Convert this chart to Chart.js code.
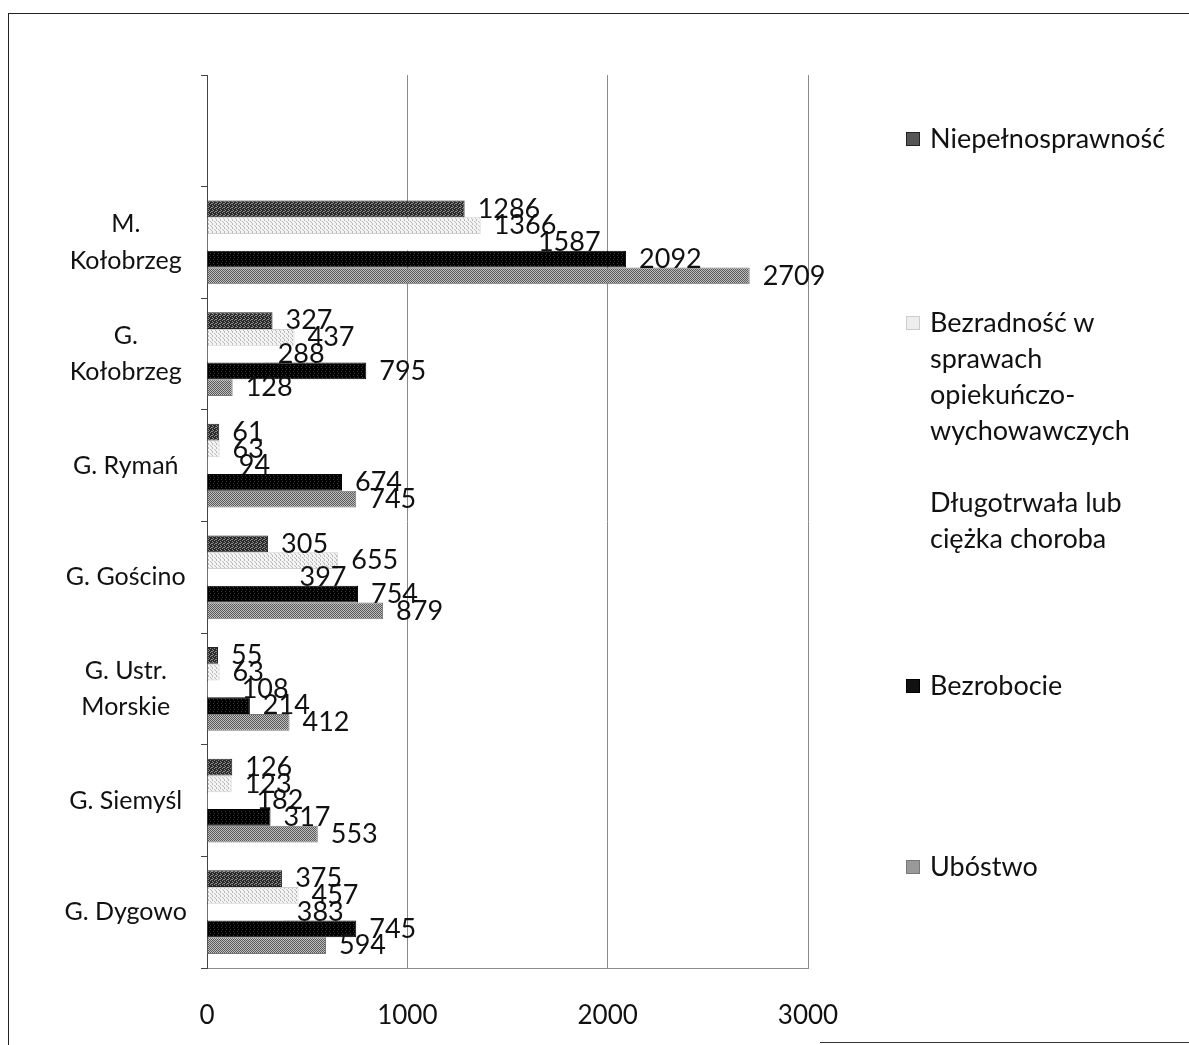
<!DOCTYPE html>
<html>
<head>
<meta charset="utf-8">
<script src="https://cdn.jsdelivr.net/npm/chart.js@4"></script>
<style>
  html, body { margin: 0; padding: 0; background: #fff; }
  #wrap { position: relative; width: 1189px; height: 1045px; overflow: hidden; }
  #frame { position: absolute; left: 8px; top: 13px; width: 1200px; height: 1100px; border-left: 1px solid #222; border-top: 1px solid #222; }
  #frameBottom { position: absolute; left: 820px; top: 1042px; width: 369px; border-top: 1px solid #333; }
  .legend { position: absolute; left: 906px; font-family: Lato, sans-serif; font-size: 27px; line-height: 36px; color: #111; }
  .legend .sw { position: absolute; left: 0; width: 12px; height: 12px; }
  .legend .txt { position: absolute; left: 24px; white-space: nowrap; }
</style>
</head>
<body>
<div id="wrap">
  <canvas id="myChart" width="1189" height="1045"></canvas>
  <div id="frame"></div>
  <div id="frameBottom"></div>
  <div id="legend"></div>
</div>
<script>
"use strict";

// categories from top to bottom (first one is the empty slot in the original)
const categories = [
  '',
  ['M.', 'Kołobrzeg'],
  ['G.', 'Kołobrzeg'],
  'G. Rymań',
  'G. Gościno',
  ['G. Ustr.', 'Morskie'],
  'G. Siemyśl',
  'G. Dygowo'
];

const seriesNames = [
  'Niepełnosprawność',
  'Bezradność w sprawach opiekuńczo-wychowawczych',
  'Długotrwała lub ciężka choroba',
  'Bezrobocie',
  'Ubóstwo'
];

const niepelnosprawnosc = [null, 1286, 327, 61, 305, 55, 126, 375];
const bezradnosc        = [null, 1366, 437, 63, 655, 63, 123, 457];
const choroba           = [null, 1587, 288, 94, 397, 108, 182, 383];
const bezrobocie        = [null, 2092, 795, 674, 754, 214, 317, 745];
const ubostwo           = [null, 2709, 128, 745, 879, 412, 553, 594];

const xTicks = [0, 1000, 2000, 3000];

// legend text lines as in the picture
const legendLines = [
  ['Niepełnosprawność'],
  ['Bezradność w', 'sprawach', 'opiekuńczo-', 'wychowawczych'],
  ['Długotrwała lub', 'ciężka choroba'],
  ['Bezrobocie'],
  ['Ubóstwo']
];
const legendTops = [120, 304, 484, 667, 848];

// small halftone-like patterns
const makePattern = (dark, light, mask) => {
  const c = document.createElement('canvas');
  c.width = 4; c.height = 4;
  const g = c.getContext('2d');
  for (let i = 0; i < 16; i++) {
    g.fillStyle = mask[i] === '1' ? dark : light;
    g.fillRect(i % 4, Math.floor(i / 4), 1, 1);
  }
  return g.createPattern(c, 'repeat');
};

const fills = [
  makePattern('#2a2a2a', '#8a8a8a', '1101011110110110'),
  makePattern('#b8b8b8', '#f4f4f4', '1000001000011000'),
  '#ffffff',
  makePattern('#000000', '#3a3a3a', '1111110111111011'),
  makePattern('#5a5a5a', '#bdbdbd', '1010010110100101')
];
const borders = ['#222', '#d0d0d0', '#ffffff', '#000', '#777'];
const seriesData = [niepelnosprawnosc, bezradnosc, choroba, bezrobocie, ubostwo];

const barLabels = {
  id: 'barLabels',
  afterDatasetsDraw(chart) {
    const { ctx } = chart;
    ctx.save();
    ctx.font = '27px Lato';
    ctx.fillStyle = '#111';
    ctx.textBaseline = 'middle';
    ctx.textAlign = 'left';
    chart.data.datasets.forEach((ds, di) => {
      chart.getDatasetMeta(di).data.forEach((bar, i) => {
        const v = ds.data[i];
        if (v == null) return;
        ctx.fillText(String(v), bar.x + 13, bar.y);
      });
    });
    ctx.restore();
  }
};

const ctx = document.getElementById('myChart').getContext('2d');
new Chart(ctx, {
  type: 'bar',
  data: {
    labels: categories,
    datasets: seriesData.map((d, i) => ({
      label: seriesNames[i],
      data: d,
      backgroundColor: fills[i],
      borderColor: borders[i],
      borderWidth: 1,
      categoryPercentage: 0.75,
      barPercentage: 1.0
    }))
  },
  options: {
    indexAxis: 'y',
    responsive: false,
    animation: false,
    layout: { padding: { top: 75, right: 381, left: 0, bottom: 0 } },
    plugins: {
      legend: { display: false },
      tooltip: { enabled: false }
    },
    scales: {
      x: {
        min: 0, max: 3000,
        afterBuildTicks: (scale) => { scale.ticks = xTicks.map(v => ({ value: v })); },
        afterFit: (scale) => { scale.height = 77; },
        grid: { color: '#8a8a8a', lineWidth: 1, tickLength: 0 },
        border: { color: '#8a8a8a' },
        ticks: {
          padding: 32, color: '#111', font: { family: 'Lato', size: 26 },
          callback: (v) => String(v)
        }
      },
      y: {
        afterFit: (scale) => { scale.width = 207; },
        grid: { offset: true, drawOnChartArea: false, tickLength: 6, color: '#444' },
        border: { color: '#444' },
        ticks: {
          padding: 14, color: '#111', crossAlign: 'center',
          font: { family: 'Lato', size: 25, lineHeight: 1.45 }
        }
      }
    }
  },
  plugins: [barLabels]
});

// legend on the right
const legendEl = document.getElementById('legend');
legendLines.forEach((lines, i) => {
  const item = document.createElement('div');
  item.className = 'legend';
  item.style.top = legendTops[i] + 'px';
  if (i !== 2) {
    const sw = document.createElement('div');
    sw.className = 'sw';
    sw.style.top = '12px';
    sw.style.background = ['#555', '#eee', '#fff', '#111', '#999'][i];
    sw.style.border = '1px solid ' + ['#222', '#ccc', '#fff', '#000', '#777'][i];
    item.appendChild(sw);
  }
  const txt = document.createElement('div');
  txt.className = 'txt';
  txt.innerHTML = lines.join('<br>');
  item.appendChild(txt);
  legendEl.appendChild(item);
});
</script>
</body>
</html>
